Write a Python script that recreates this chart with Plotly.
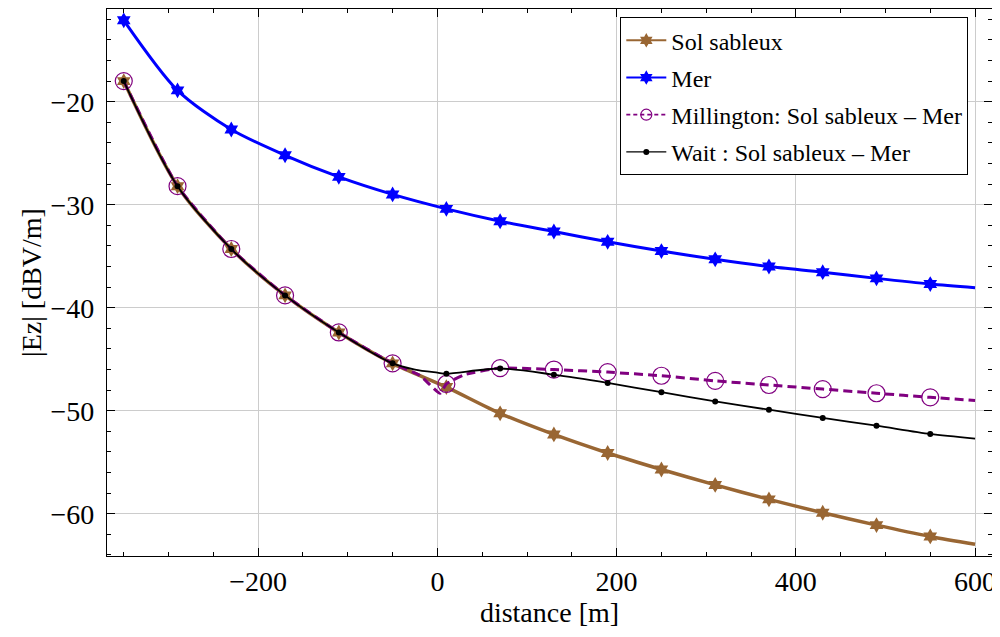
import plotly.graph_objects as go

# ---- data ----
x_mark = [-350, -290, -230, -170, -110, -50, 10, 70, 130, 190, 250, 310, 370, 430, 490, 550]
sol_mark = [-18.0, -28.2, -34.3, -38.8, -42.4, -45.4, -47.7, -50.25, -52.3, -54.1, -55.7, -57.2, -58.6, -59.9, -61.1, -62.2]
mer_mark = [-12.1, -18.9, -22.7, -25.2, -27.3, -29.0, -30.4, -31.6, -32.6, -33.6, -34.5, -35.3, -36.0, -36.55, -37.15, -37.7]
mill_mark = [-18.0, -28.2, -34.3, -38.8, -42.4, -45.4, -47.4, -45.86, -46.0, -46.25, -46.6, -47.1, -47.5, -47.9, -48.3, -48.7]
wait_mark = [-18.0, -28.2, -34.3, -38.8, -42.4, -45.4, -46.4, -45.9, -46.5, -47.3, -48.2, -49.1, -49.9, -50.7, -51.45, -52.25]

# extra curve points (between / after the markers)
sol_x_extra, sol_y_extra = [600], [-62.96]
mer_x_extra, mer_y_extra = [600], [-38.05]
mill_x_extra, mill_y_extra = [-20, 3, 30, 600], [-46.55, -48.3, -46.5, -49.0]
wait_x_extra, wait_y_extra = [-25, 0, 600], [-46.0, -46.3, -52.7]

names = ["Sol sableux", "Mer", "Millington: Sol sableux \u2013 Mer", "Wait : Sol sableux \u2013 Mer"]

x_ticks = [-200, 0, 200, 400, 600]
y_ticks = [-60, -50, -40, -30, -20]


def curve(xm, ym, xe, ye):
    pts = sorted(list(zip(xm, ym)) + list(zip(xe, ye)))
    return [p[0] for p in pts], [p[1] for p in pts]


BROWN = "#996633"
BLUE = "#0000FF"
PURPLE = "#800080"
BLACK = "#000000"
FONT = "Liberation Serif, Times New Roman, Times, DejaVu Serif, serif"

styles = [
    dict(name=names[0], color=BROWN, width=3.5, dash="solid", symbol="hexagram", size=12, mline=0, mcolor=BROWN,
         ym=sol_mark, xe=sol_x_extra, ye=sol_y_extra, sm=0.8),
    dict(name=names[1], color=BLUE, width=3, dash="solid", symbol="hexagram", size=12, mline=0, mcolor=BLUE,
         ym=mer_mark, xe=mer_x_extra, ye=mer_y_extra, sm=0.8),
    dict(name=names[2], color=PURPLE, width=3, dash="9px,5px", symbol="circle-open", size=17, mline=1.2, mcolor=PURPLE,
         ym=mill_mark, xe=mill_x_extra, ye=mill_y_extra, sm=0.5),
    dict(name=names[3], color=BLACK, width=1.8, dash="solid", symbol="circle", size=6, mline=0, mcolor=BLACK,
         ym=wait_mark, xe=wait_x_extra, ye=wait_y_extra, sm=0.8),
]

fig = go.Figure()

# legend-only entries
for i, s in enumerate(styles):
    fig.add_trace(go.Scatter(
        x=[None], y=[None], mode="lines+markers", name=s["name"], legendgroup="g%d" % i,
        line=dict(color=s["color"], width=s["width"] * 0.6, dash="4px,3px" if s["dash"] != "solid" else "solid"),
        marker=dict(symbol=s["symbol"], size=min(s["size"], 11), color=s["mcolor"],
                    line=dict(width=s["mline"], color=s["mcolor"])),
        showlegend=True,
    ))

for i, s in enumerate(styles):
    cx, cy = curve(x_mark, s["ym"], s["xe"], s["ye"])
    fig.add_trace(go.Scatter(
        x=cx, y=cy, mode="lines", legendgroup="g%d" % i, showlegend=False,
        line=dict(color=s["color"], width=s["width"], dash=s["dash"], shape="spline", smoothing=s["sm"]),
        hoverinfo="skip",
    ))
    fig.add_trace(go.Scatter(
        x=x_mark, y=s["ym"], mode="markers", legendgroup="g%d" % i, showlegend=False,
        marker=dict(symbol=s["symbol"], size=s["size"], color=s["mcolor"],
                    line=dict(width=s["mline"], color=s["mcolor"])),
    ))

axis_common = dict(
    showline=True, linecolor="black", linewidth=1.2, mirror="ticks",
    ticks="inside", ticklen=8, tickwidth=1, tickcolor="black",
    showgrid=True, gridcolor="#cccccc", gridwidth=1, zeroline=False,
    tickfont=dict(family=FONT, size=28, color="black"),
)

fig.update_xaxes(
    range=[-368.7, 618.9], tickvals=x_ticks,
    minor=dict(dtick=50, tick0=0, ticks="inside", ticklen=4, tickcolor="black", showgrid=False),
    title=dict(text="distance [m]", font=dict(family=FONT, size=28, color="black"), standoff=3),
    **axis_common,
)
fig.update_yaxes(
    range=[-64.1, -11.0], tickvals=y_ticks,
    minor=dict(dtick=2, tick0=0, ticks="inside", ticklen=4, tickcolor="black", showgrid=False),
    title=dict(text="|Ez| [dBV/m]", font=dict(family=FONT, size=28, color="black"), standoff=0),
    ticklabelstandoff=6,
    **axis_common,
)

# the page body adds an 8px offset, margins compensate for it
fig.update_layout(
    width=1000, height=637,
    margin=dict(l=99, r=16, t=1, b=89, autoexpand=False),
    plot_bgcolor="white", paper_bgcolor="white",
    font=dict(family=FONT, color="black"),
    legend=dict(
        x=0.58, y=0.985, xanchor="left", yanchor="top",
        bgcolor="white", bordercolor="black", borderwidth=1,
        font=dict(family=FONT, size=24, color="black"),
        tracegroupgap=3, itemwidth=40,
    ),
)

fig.write_html("out.html")
